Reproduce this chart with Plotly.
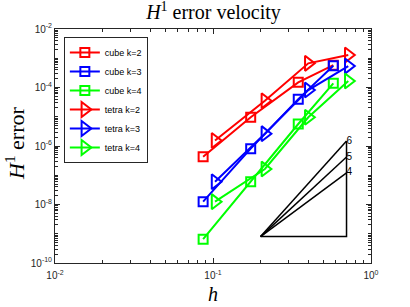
import plotly.graph_objects as go

# ---- data ----
h_cube = [0.0866, 0.1732, 0.3464, 0.5774]
h_tetra = [0.103, 0.213, 0.401, 0.718]
cube_k2 = [4.3e-7, 9.6e-6, 1.5e-4, 5.8e-4]
cube_k3 = [1.25e-8, 8.1e-7, 4.0e-5, 5.5e-4]
cube_k4 = [6.5e-10, 6.0e-8, 5.65e-6, 1.39e-4]
tetra_k2 = [1.54e-6, 3.54e-5, 6.7e-4, 1.29e-3]
tetra_k3 = [6.0e-8, 2.64e-6, 8.2e-5, 5.4e-4]
tetra_k4 = [1.25e-8, 1.64e-7, 9.6e-6, 1.67e-4]

series_names = ["cube k=2", "cube k=3", "cube k=4", "tetra k=2", "tetra k=3", "tetra k=4"]
series_h = [h_cube, h_cube, h_cube, h_tetra, h_tetra, h_tetra]
series_vals = [cube_k2, cube_k3, cube_k4, tetra_k2, tetra_k3, tetra_k4]
series_colors = ["#ff0000", "#0000ff", "#00ff00", "#ff0000", "#0000ff", "#00ff00"]
series_symbols = ["square-open"] * 3 + ["triangle-right-open"] * 3
series_sizes = [9, 9, 9, 13, 13, 13]

# slope triangle
tri_h = [0.2, 0.7]
tri_base = 8e-10
slopes = [4, 5, 6]

x_tickvals = [1e-2, 1e-1, 1e0]
x_ticktext = ["10<sup>-2</sup>", "10<sup>-1</sup>", "10<sup>0</sup>"]
y_tickvals = [1e-10, 1e-8, 1e-6, 1e-4, 1e-2]
y_ticktext = ["10<sup>-10</sup>", "10<sup>-8</sup>", "10<sup>-6</sup>", "10<sup>-4</sup>", "10<sup>-2</sup>"]

fig = go.Figure()

for name, hx, vals, col, sym, sz in zip(series_names, series_h, series_vals,
                                         series_colors, series_symbols, series_sizes):
    fig.add_trace(go.Scatter(
        x=hx, y=vals, mode="lines+markers", name=name,
        line=dict(color=col, width=2),
        marker=dict(symbol=sym, size=sz, color=col, line=dict(width=2, color=col)),
    ))

# slope triangle lines
x0, x1 = tri_h
tops = [tri_base * (x1 / x0) ** s for s in slopes]
tx, ty = [x0, x1, x1], [tri_base, tri_base, max(tops)]
for t in tops:
    tx += [None, x0, x1]
    ty += [None, tri_base, t]
fig.add_trace(go.Scatter(x=tx, y=ty, mode="lines", showlegend=False,
                         line=dict(color="black", width=1.5), hoverinfo="skip"))
fig.add_trace(go.Scatter(x=[x1] * len(slopes), y=tops, mode="text",
                         text=[str(s) for s in slopes], textposition="middle right",
                         textfont=dict(family="Liberation Sans", size=10, color="black"),
                         showlegend=False, hoverinfo="skip"))

def minor_vals(lo, hi):
    out = []
    for e in range(lo, hi):
        for k in range(1, 10):
            out.append(k * 10.0 ** e)
    out.append(10.0 ** hi)
    return out

axis_common = dict(
    type="log", showline=True, linecolor="#262626", linewidth=1, mirror="ticks",
    ticks="inside", ticklen=5, tickcolor="#262626", showgrid=False, zeroline=False,
    tickfont=dict(family="Liberation Sans", size=10, color="#262626"),
)

fig.update_xaxes(
    **axis_common, range=[-2, 0], tickmode="array", tickvals=x_tickvals, ticktext=x_ticktext,
    minor=dict(tickmode="array", tickvals=minor_vals(-2, 0), ticks="inside", ticklen=3,
               tickcolor="#262626"),
    ticklabelstandoff=3,
)
fig.update_yaxes(
    **axis_common, range=[-10, -2], tickmode="array", tickvals=y_tickvals, ticktext=y_ticktext,
    minor=dict(tickmode="array", tickvals=minor_vals(-10, -2), ticks="inside", ticklen=3,
               tickcolor="#262626"),
)

# axis titles
fig.add_annotation(text="<i>h</i>", xref="paper", yref="paper", x=0.5, y=-(294 - 263) / 234,
                   xanchor="center", yanchor="middle", showarrow=False, borderpad=0,
                   font=dict(family="Liberation Serif", size=20, color="black"))
fig.add_annotation(text="<i>H</i><sup>1</sup> error", xref="paper", yref="paper",
                   x=(15 - 55) / 316, y=(263 - 143) / 234, textangle=-90,
                   xanchor="center", yanchor="middle", showarrow=False,
                   font=dict(family="Liberation Serif", size=22, color="black"))

fig.update_layout(
    width=410, height=307,
    margin=dict(l=55, r=39, t=29, b=44),
    paper_bgcolor="white", plot_bgcolor="white",
    title=dict(text="<i>H</i><sup>1</sup> error velocity", x=213.5 / 410, xanchor="center",
               y=1 - 12 / 307, yanchor="middle",
               font=dict(family="Liberation Serif", size=20, color="black")),
    legend=dict(x=0.028, y=0.966, xanchor="left", yanchor="top",
                bgcolor="white", bordercolor="#262626", borderwidth=1,
                font=dict(family="Liberation Sans", size=9, color="black"),
                tracegroupgap=0, itemwidth=30),
    showlegend=True,
)

fig.write_html("out.html", config={"displayModeBar": False},
               post_script="document.body.style.margin='0px';")
